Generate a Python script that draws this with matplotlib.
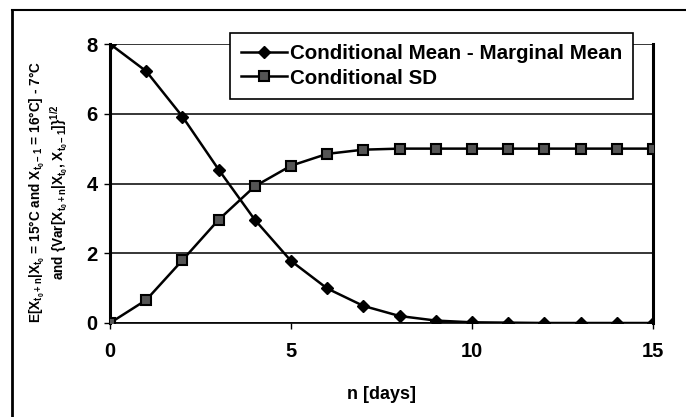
import numpy as np
import matplotlib.pyplot as plt
from matplotlib.lines import Line2D

plt.rcParams['font.family'] = ['Liberation Sans', 'DejaVu Sans']
plt.rcParams['font.weight'] = 'bold'
plt.rcParams['mathtext.fontset'] = 'custom'
plt.rcParams['mathtext.rm'] = 'Liberation Sans:bold'
plt.rcParams['mathtext.it'] = 'Liberation Sans:bold'
plt.rcParams['mathtext.bf'] = 'Liberation Sans:bold'
plt.rcParams['mathtext.default'] = 'rm'

n = list(range(16))
cond_mean = [8.0, 7.22, 5.92, 4.4, 2.96, 1.78, 0.99, 0.49, 0.2, 0.07, 0.02, 0.01, 0.0, 0.0, 0.0, 0.0]
cond_sd = [0.0, 0.66, 1.8, 2.96, 3.92, 4.51, 4.85, 4.97, 5.0, 5.0, 5.0, 5.0, 5.0, 5.0, 5.0, 5.0]
labels = ['Conditional Mean - Marginal Mean', 'Conditional SD']

fig = plt.figure(figsize=(6.86, 4.17), dpi=100)
ax = fig.add_axes([110/686, 94/417, 543/686, 279/417])

ax.plot(n, cond_mean, '-', color='black', lw=1.8, marker='D', ms=6.5,
        mfc='black', mec='black', label=labels[0], zorder=4)
ax.plot(n, cond_sd, '-', color='black', lw=1.8, marker='s', ms=7.5,
        mfc='#555555', mec='black', mew=1.5, label=labels[1], zorder=4)

ax.set_xlim(0, 15)
ax.set_ylim(0, 8)
ax.set_xticks([0, 5, 10, 15])
ax.set_yticks([0, 2, 4, 6, 8])
ax.tick_params(labelsize=14.5, length=4, width=1, direction='out')
ax.tick_params(axis='x', pad=10)
ax.tick_params(axis='y', pad=5)
for t in ax.get_xticklabels() + ax.get_yticklabels():
    t.set_fontweight('bold')
ax.yaxis.grid(True, color='black', lw=1.1)
ax.set_axisbelow(True)

ax.spines['top'].set_visible(False)
ax.spines['left'].set_linewidth(2.2)
ax.spines['right'].set_linewidth(2.2)
ax.spines['bottom'].set_linewidth(1.2)

ax.set_xlabel('n [days]', fontsize=13, fontweight='bold', labelpad=18)
ylab = ('E[X$_{t_0+n}$|X$_{t_0}$ = 15°C and X$_{t_0-1}$ = 16°C] - 7°C\n'
        'and {Var[X$_{t_0+n}$|X$_{t_0}$, X$_{t_0-1}$]}$^{1/2}$')
ax.set_ylabel(ylab, fontsize=9.8, fontweight='bold', linespacing=1.05)
ax.yaxis.set_label_coords(-0.074, 0.47)

leg = ax.legend(loc='upper left', bbox_to_anchor=(0.221, 1.039), fontsize=14.8,
                frameon=True, fancybox=False, edgecolor='black', framealpha=1,
                handlelength=2.2, handletextpad=0.15, borderpad=0.55,
                labelspacing=0.25, borderaxespad=0)
leg.get_frame().set_linewidth(1.2)
for t in leg.get_texts():
    t.set_fontweight('bold')

# outer chart frame (partly cropped at right/bottom)
fig.add_artist(Line2D([12/686, 1], [1 - 10/417, 1 - 10/417], color='black', lw=1.5,
                      transform=fig.transFigure))
fig.add_artist(Line2D([12/686, 12/686], [0, 1 - 10/417], color='black', lw=2,
                      transform=fig.transFigure))

fig.savefig('out.png', dpi=100)
